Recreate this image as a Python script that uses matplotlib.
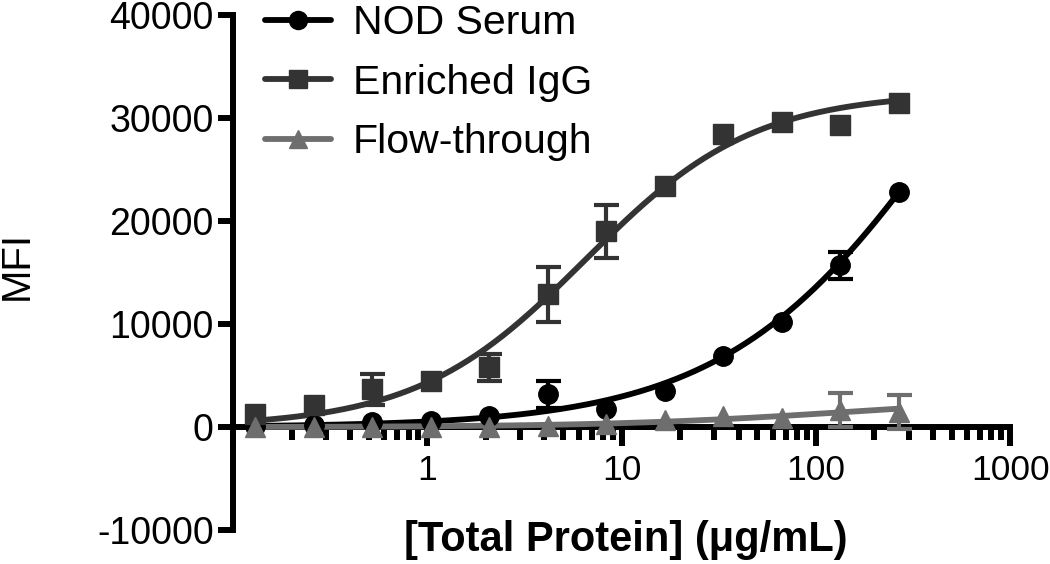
import numpy as np
import matplotlib
matplotlib.use("Agg")
import matplotlib.pyplot as plt
from matplotlib.ticker import FixedLocator, NullFormatter, FixedFormatter, LogLocator

plt.rcParams["font.family"] = ["Liberation Sans", "DejaVu Sans"]

# data
conc = [0.13, 0.26, 0.52, 1.04, 2.08, 4.17, 8.33, 16.7, 33.3, 66.7, 133, 267]

nod_mfi = [100, 200, 500, 600, 1100, 3200, 1750, 3500, 6900, 10200, 15700, 22800]
nod_err = [0, 0, 0, 0, 0, 1300, 0, 0, 0, 0, 1350, 0]

igg_mfi = [1300, 2200, 3700, 4500, 5800, 12900, 19000, 23400, 28500, 29600, 29300, 31500]
igg_err = [0, 0, 1500, 0, 1300, 2700, 2550, 0, 0, 0, 0, 0]

ft_mfi = [0, 0, 0, 0, 0, 100, 300, 700, 1100, 900, 1700, 1450]
ft_err = [0, 0, 0, 0, 0, 0, 0, 0, 0, 0, 1650, 1650]

# 4PL fit (bottom, top, EC50, hill) estimated from the drawn curves
nod_fit = (0, 60000, 513, 0.75)
igg_fit = (0, 32500, 6.5, 1.0)
ft_fit = (0, 3000, 150, 0.7)

labels = ["NOD Serum", "Enriched IgG", "Flow-through"]
colors = ["#000000", "#333333", "#6e6e6e"]
markers = ["o", "s", "^"]


def four_pl(x, p):
    bottom, top, ec50, hill = p
    return bottom + (top - bottom) / (1 + (ec50 / x) ** hill)


fig = plt.figure(figsize=(10.5, 5.64), dpi=100)
ax = fig.add_axes([0.222, 0.060, 0.740, 0.913])

xs = np.logspace(np.log10(conc[0]), np.log10(conc[-1]), 300)
series = [(nod_mfi, nod_err, nod_fit), (igg_mfi, igg_err, igg_fit), (ft_mfi, ft_err, ft_fit)]

handles = []
for (y, err, fit), lab, col, mk in zip(series, labels, colors, markers):
    ax.plot(xs, four_pl(xs, fit), color=col, lw=4.2, zorder=3, clip_on=False,
            solid_capstyle="round")
    # only the error bars that stick out of the markers
    ex = [c for c, e in zip(conc, err) if e > 0]
    ey = [v for v, e in zip(y, err) if e > 0]
    ee = [e for e in err if e > 0]
    ax.errorbar(ex, ey, yerr=ee, fmt="none", ecolor=col, elinewidth=3,
                capsize=9, capthick=3, zorder=4, clip_on=False)
    ax.plot(conc, y, ls="none", marker=mk, ms=14, color=col, zorder=5, clip_on=False)
    h, = ax.plot([], [], color=col, lw=4.2, marker=mk, ms=13, solid_capstyle="round")
    handles.append(h)

ax.set_xscale("log")
ax.set_xlim(0.1, 1000)
ax.set_ylim(-10000, 40000)

for s in ["top", "right"]:
    ax.spines[s].set_visible(False)
ax.spines["bottom"].set_position(("data", 0))
ax.spines["left"].set_linewidth(4.3)
ax.spines["bottom"].set_linewidth(4.3)

ax.set_yticks([-10000, 0, 10000, 20000, 30000, 40000])
ax.set_yticklabels(["-10000", "0", "10000", "20000", "30000", "40000"])
ax.xaxis.set_major_locator(FixedLocator([0.1, 1, 10, 100, 1000]))
ax.xaxis.set_major_formatter(FixedFormatter(["", "1", "10", "100", "1000"]))
ax.xaxis.set_minor_locator(LogLocator(base=10, subs=np.arange(2, 10), numticks=20))
ax.xaxis.set_minor_formatter(NullFormatter())

ax.tick_params(axis="y", direction="out", length=11, width=4.3, labelsize=27, pad=3)
ax.tick_params(axis="x", which="major", direction="out", length=14, width=4.3,
               labelsize=25.5, pad=5)
ax.tick_params(axis="x", which="minor", direction="out", length=9, width=4.3)

fig.text(17 / 1050, 1 - 266 / 564, "MFI", fontsize=29, rotation=90,
         ha="center", va="center")
fig.text(626 / 1050, 1 - 540 / 564, "[Total Protein] (\u03bcg/mL)", fontsize=30,
         fontweight="bold", ha="center", va="center")

leg = ax.legend(handles, labels, loc="upper left", bbox_to_anchor=(0.02, 1.053),
                frameon=False, fontsize=29.5, handlelength=1.6, handletextpad=0.55,
                labelspacing=0.52, borderaxespad=0)

fig.savefig("out.png", dpi=100)
